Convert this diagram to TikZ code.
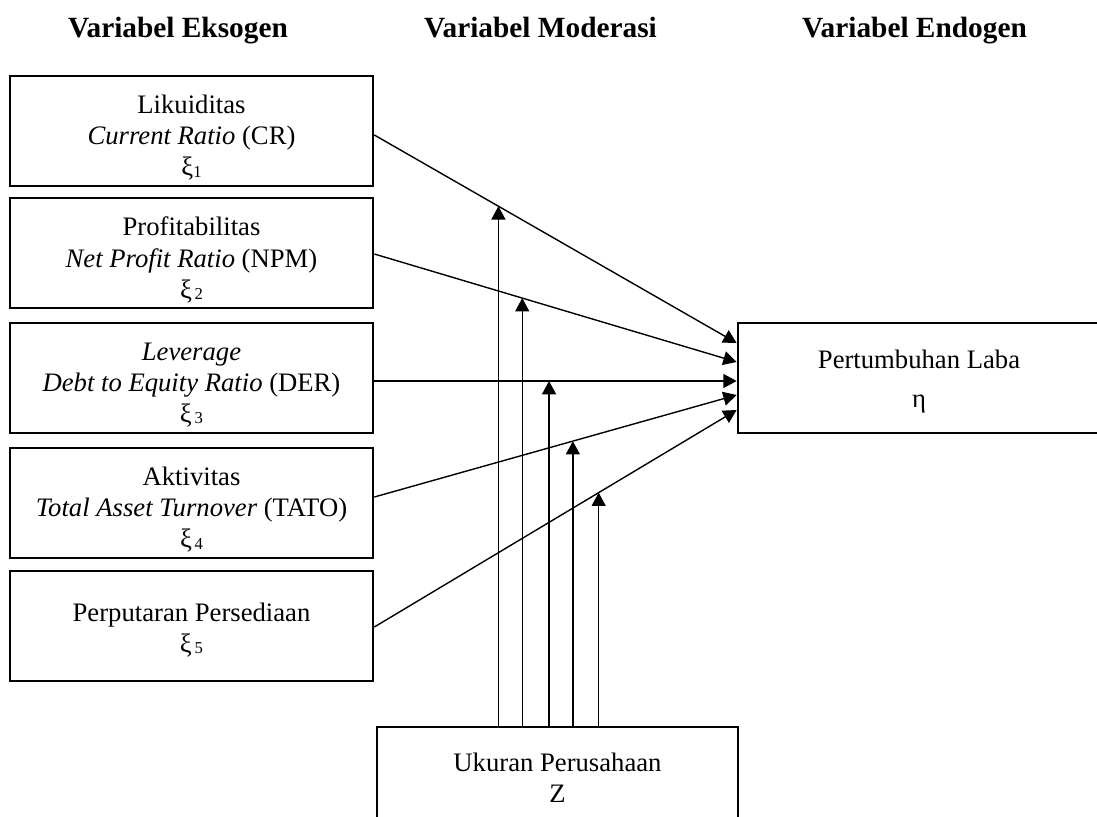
\documentclass[tikz,border=0pt]{standalone}
\usepackage{fontspec}
\setmainfont{Liberation Serif}
\usetikzlibrary{calc,arrows.meta}
\newcommand\myxi[1]{ξ\raisebox{-0.8pt}{\fontsize{12.5}{12.5}\selectfont #1}}
\begin{document}
\begin{tikzpicture}[x=0.75pt,y=-0.75pt,
  box/.style={draw, line width=2pt, inner sep=0pt},
  exo/.style={box, minimum width=272.25pt, minimum height=82.5pt},
  txt/.style={inner sep=0pt, align=center, font=\fontsize{20}{23.3}\selectfont},
  head/.style={anchor=base, font=\bfseries\fontsize{22}{24}\selectfont},
  conn/.style={line width=1.05pt, -{Triangle[length=10pt,width=10.5pt]}}]
\useasboundingbox (0,0) rectangle (1097,817);
\clip (0,0) rectangle (1097,817);
% headers
\node[head] (h1) at (178,38) {Variabel Eksogen};
\node[head] (h2) at (540.5,38) {Variabel Moderasi};
\node[head] (h3) at (914.5,38) {Variabel Endogen};
% exogenous boxes
\node[exo] (b1) at (191.5,131) {};
\node[exo] (b2) at (191.5,253) {};
\node[exo] (b3) at (191.5,378) {};
\node[exo] (b4) at (191.5,503) {};
\node[exo] (b5) at (191.5,626) {};
\node[txt] (t1) at ($(b1)+(0,7)$) {Likuiditas\\\textit{Current Ratio} (CR)\\\myxi{1}};
\node[txt] (t2) at ($(b2)+(0,7)$) {Profitabilitas\\\textit{Net Profit Ratio} (NPM)\\\myxi{\,2}};
\node[txt] (t3) at ($(b3)+(0,7)$) {\textit{Leverage}\\\textit{Debt to Equity Ratio} (DER)\\\myxi{\,3}};
\node[txt] (t4) at ($(b4)+(0,7)$) {Aktivitas\\\textit{Total Asset Turnover} (TATO)\\\myxi{\,4}};
\node[txt] (t5) at ($(b5)+(0,4)$) {Perputaran Persediaan\\\myxi{\,5}};
% endogenous box
\node[box, minimum width=271.5pt, minimum height=82.5pt] (en) at (919,378) {};
\node[txt] (te) at ($(en)+(0,4)$) {Pertumbuhan Laba\\[6pt]η};
% moderator box
\node[box, minimum width=270.75pt, minimum height=76.5pt] (z) at (557.5,778) {};
\node[txt] (tz) at ($(z)+(0,0)$) {Ukuran Perusahaan\\Z};
% target points
\coordinate (e1) at ($(en.west)+(0,-35)$);
\coordinate (e2) at ($(en.west)+(0,-16)$);
\coordinate (e3) at ($(en.west)+(0,3)$);
\coordinate (e4) at ($(en.west)+(0,17)$);
\coordinate (e5) at ($(en.west)+(0,32)$);
\coordinate (s1) at ($(b1.east)+(0,4)$);
\coordinate (s2) at ($(b2.east)+(0,1)$);
\coordinate (s3) at ($(b3.east)+(0,3)$);
\coordinate (s4) at ($(b4.east)+(0,-6)$);
\coordinate (s5) at ($(b5.east)+(0,1)$);
\foreach \i in {1,...,5}{\draw[conn] (s\i) -- (e\i);}
% moderation points
\coordinate (m1) at ($(s1)!{(498-373)/365}!(e1)$);
\coordinate (m2) at ($(s2)!{(522-373)/365}!(e2)$);
\coordinate (m3) at ($(s3)!{(549-373)/365}!(e3)$);
\coordinate (m4) at ($(s4)!{(573-373)/365}!(e4)$);
\coordinate (m5) at ($(s5)!{(599-373)/365}!(e5)$);
\foreach \i in {1,...,5}{\draw[conn] (m\i |- z.north) -- (m\i);}
\end{tikzpicture}
\end{document}
